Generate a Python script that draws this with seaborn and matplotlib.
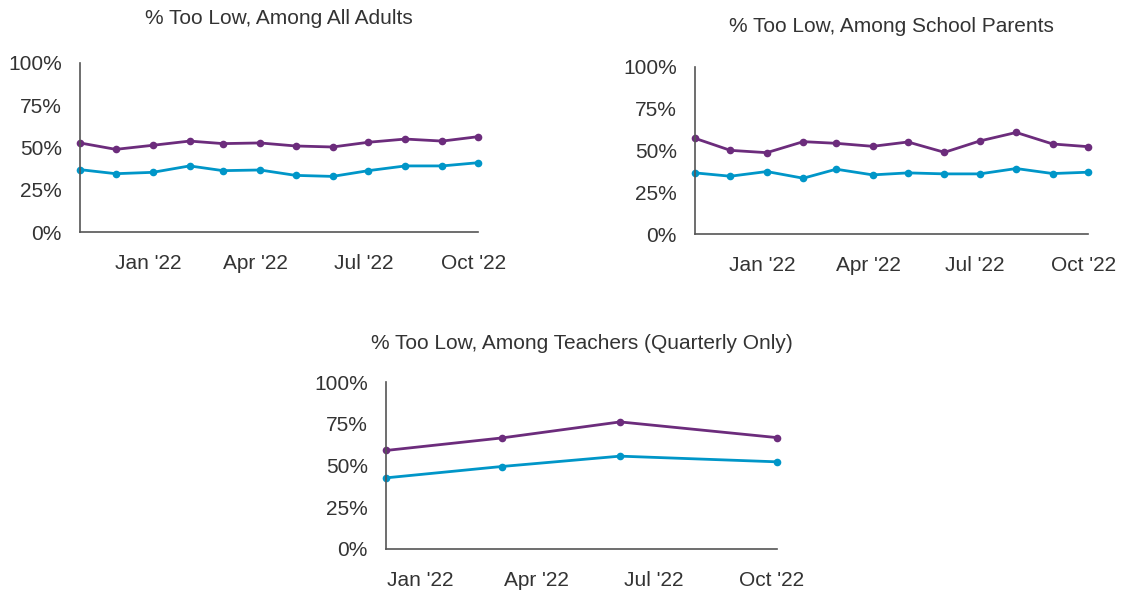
import pandas as pd
import numpy as np
import matplotlib
matplotlib.use('Agg')
import matplotlib.pyplot as plt
from matplotlib.ticker import PercentFormatter
import seaborn as sns

# Monthly survey dates (early each month)
monthly_dates = ['2021-11-05', '2021-12-05', '2022-01-05', '2022-02-05', '2022-03-05', '2022-04-05',
                 '2022-05-05', '2022-06-05', '2022-07-05', '2022-08-05', '2022-09-05', '2022-10-05']
quarterly_dates = ['2021-12-05', '2022-03-05', '2022-06-05', '2022-10-05']

# % too low, all adults
adults_purple = [52.7, 48.9, 51.3, 53.8, 52.3, 52.7, 50.9, 50.3, 53.1, 55.0, 53.8, 56.4]
adults_blue = [36.9, 34.5, 35.3, 39.1, 36.3, 36.7, 33.5, 32.9, 36.3, 39.1, 39.1, 41.0]

# % too low, school parents
parents_purple = [57.3, 50.1, 48.7, 55.3, 54.3, 52.5, 55.1, 48.9, 55.7, 60.8, 53.9, 52.3]
parents_blue = [36.6, 34.6, 37.4, 33.4, 38.8, 35.4, 36.6, 36.0, 36.0, 39.2, 36.2, 37.0]

# % too low, teachers (quarterly)
teachers_purple = [59.0, 66.5, 76.1, 66.7]
teachers_blue = [42.6, 49.4, 55.6, 52.2]

tick_dates = ['2022-01-01', '2022-04-01', '2022-07-01', '2022-10-01']
tick_labels = ["Jan '22", "Apr '22", "Jul '22", "Oct '22"]
y_ticks = [0, 25, 50, 75, 100]

PURPLE = '#6c2c7c'
BLUE = '#0096c8'
TEXT = '#333333'

sns.set_style('white')
plt.rcParams['font.family'] = ['Liberation Sans', 'DejaVu Sans']
plt.rcParams['text.color'] = TEXT


def draw_panel(ax, dates, purple, blue, title, title_pad):
    df = pd.DataFrame({
        'date': pd.to_datetime(list(dates) * 2),
        'value': list(purple) + list(blue),
        'series': ['purple'] * len(purple) + ['blue'] * len(blue),
    })
    sns.lineplot(data=df, x='date', y='value', hue='series',
                 palette={'purple': PURPLE, 'blue': BLUE},
                 marker='o', markersize=5.5, markeredgewidth=0,
                 linewidth=2, legend=False, ax=ax)
    d = pd.to_datetime(dates)
    ax.set_xlim(d[0], d[-1])
    ax.set_ylim(0, 100)
    ax.set_yticks(y_ticks)
    ax.yaxis.set_major_formatter(PercentFormatter(decimals=0))
    ax.set_xticks(pd.to_datetime(tick_dates))
    ax.set_xticklabels(tick_labels)
    ax.set_xlabel('')
    ax.set_ylabel('')
    ax.tick_params(axis='both', length=0, labelsize=15, colors=TEXT)
    ax.tick_params(axis='x', pad=16)
    ax.tick_params(axis='y', pad=13)
    for side in ['top', 'right']:
        ax.spines[side].set_visible(False)
    for side in ['left', 'bottom']:
        ax.spines[side].set_color('#555555')
        ax.spines[side].set_linewidth(1.2)
    ax.set_title(title, fontsize=15, color=TEXT, pad=title_pad)
    for line in ax.lines:
        line.set_clip_on(False)


W, H = 1136, 594
fig = plt.figure(figsize=(W / 100, H / 100), dpi=100)


def axes_px(left, top, right, bottom):
    return fig.add_axes([left / W, 1 - bottom / H, (right - left) / W, (bottom - top) / H])


ax1 = axes_px(80, 63, 478, 232)
ax2 = axes_px(695, 67, 1088, 234)
ax3 = axes_px(386, 382, 777, 549)

draw_panel(ax1, monthly_dates, adults_purple, adults_blue, '% Too Low, Among All Adults', 28)
draw_panel(ax2, monthly_dates, parents_purple, parents_blue, '% Too Low, Among School Parents', 25)
draw_panel(ax3, quarterly_dates, teachers_purple, teachers_blue,
           '% Too Low, Among Teachers (Quarterly Only)', 24)

fig.savefig('out.png', dpi=100)
